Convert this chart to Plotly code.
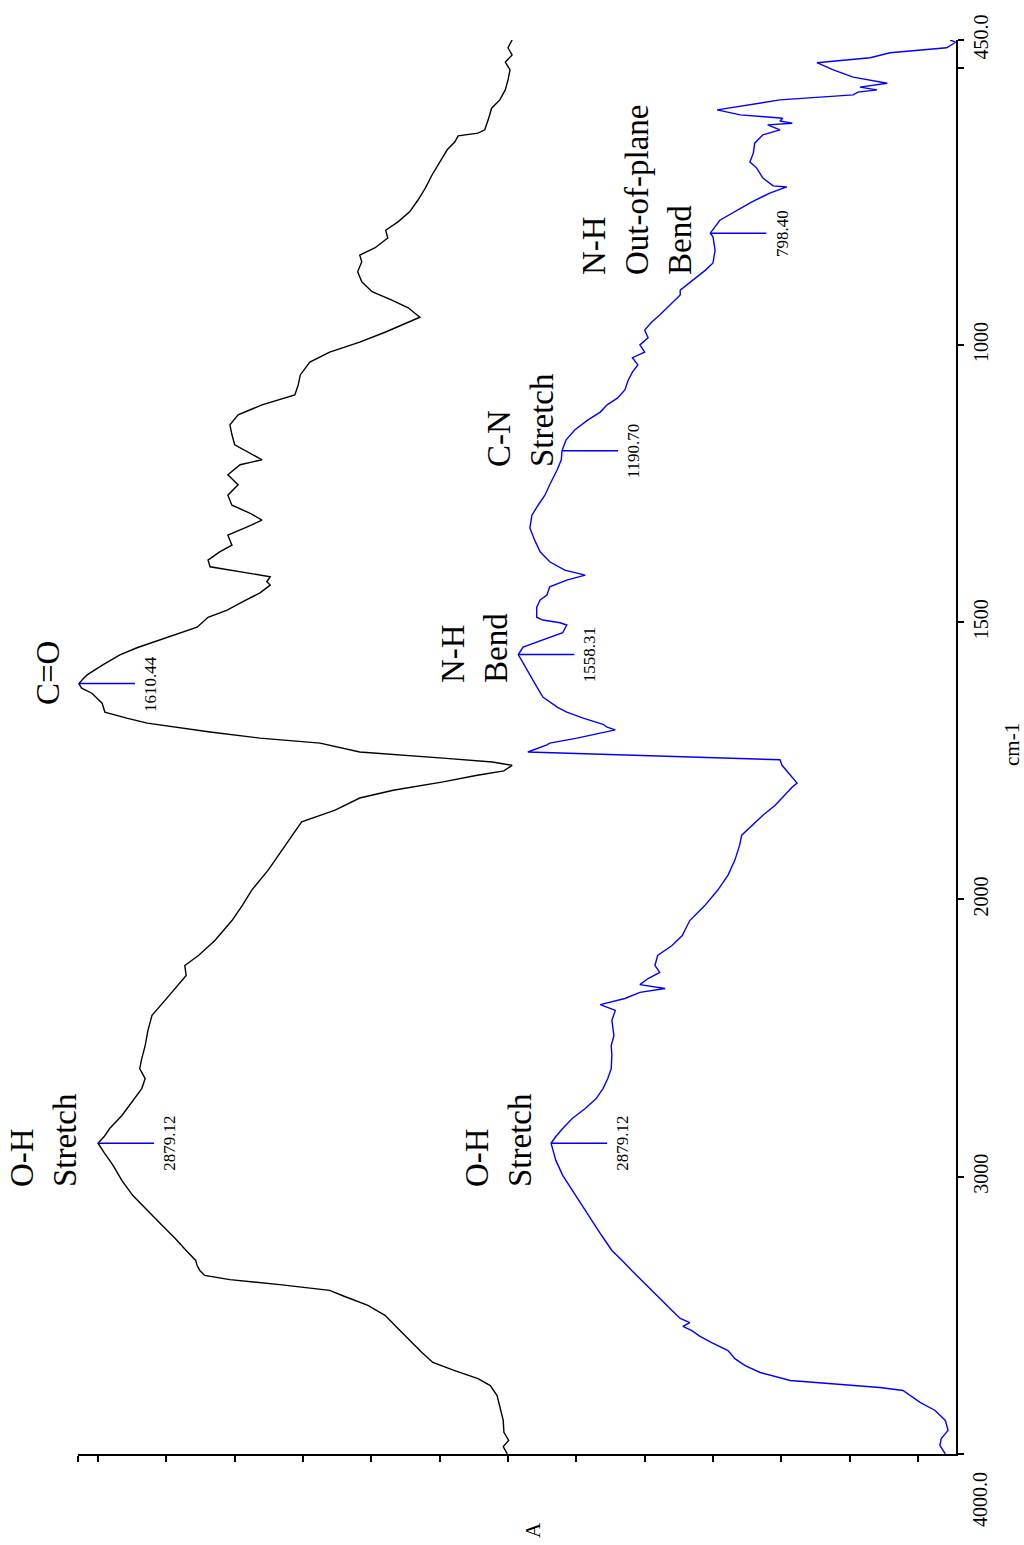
import plotly.graph_objects as go

# ---- spectra (wavenumber in cm-1, absorbance A) ----
black_wn = [4000, 3973, 3951, 3922, 3879, 3825, 3789, 3753, 3728, 3699, 3670, 3634, 3591, 3547,
            3500, 3464, 3432, 3410, 3389, 3371, 3356, 3338, 3320, 3302, 3266, 3223, 3176, 3122,
            3068, 3014, 2959, 2913, 2879.12, 2855, 2826, 2779, 2725, 2682, 2646, 2610, 2574, 2527,
            2473, 2418, 2364, 2310, 2274, 2238, 2202, 2148, 2076, 2022, 1983, 1947, 1911, 1884,
            1860, 1839, 1817, 1803, 1788, 1776, 1768, 1758, 1752, 1745, 1739, 1734, 1718, 1709,
            1698, 1689, 1682, 1673, 1662, 1646, 1628, 1619, 1610.44, 1601, 1595, 1577, 1559, 1546,
            1532, 1518, 1509, 1491, 1478, 1463, 1447, 1433, 1427, 1418, 1400, 1388, 1373, 1361,
            1343, 1330, 1316, 1303, 1289, 1271, 1252, 1234, 1216, 1207, 1195, 1180, 1162, 1144,
            1126, 1108, 1090, 1072, 1054, 1031, 1013, 995, 977, 964, 950, 933, 919, 904, 886, 868,
            850, 838, 825, 807, 793, 778, 760, 739, 717, 693, 670, 648, 634, 623, 618, 612, 594,
            573, 558, 540, 522, 504, 490, 477, 464, 450]
black_abs = [0.601, 0.607, 0.599, 0.606, 0.607, 0.612, 0.616, 0.626, 0.644, 0.678, 0.710, 0.726,
             0.744, 0.761, 0.780, 0.805, 0.839, 0.861, 0.934, 1.007, 1.044, 1.051, 1.055, 1.057,
             1.071, 1.087, 1.106, 1.127, 1.149, 1.165, 1.178, 1.191, 1.200, 1.191, 1.183, 1.165,
             1.149, 1.136, 1.131, 1.139, 1.136, 1.131, 1.127, 1.121, 1.102, 1.083, 1.071, 1.073,
             1.053, 1.029, 1.004, 0.989, 0.975, 0.951, 0.931, 0.916, 0.902, 0.853, 0.817, 0.768,
             0.695, 0.645, 0.606, 0.594, 0.623, 0.695, 0.768, 0.817, 0.875, 0.963, 1.036, 1.085,
             1.128, 1.158, 1.190, 1.194, 1.209, 1.224, 1.228, 1.221, 1.216, 1.193, 1.168, 1.143,
             1.109, 1.076, 1.055, 1.039, 1.011, 0.988, 0.963, 0.948, 0.953, 0.948, 1.036, 1.039,
             1.022, 1.004, 1.010, 0.985, 0.960, 0.978, 1.004, 1.010, 0.995, 1.010, 0.992, 0.960,
             0.978, 1.000, 1.004, 1.007, 0.995, 0.960, 0.912, 0.907, 0.904, 0.890, 0.861, 0.817,
             0.780, 0.755, 0.729, 0.746, 0.770, 0.799, 0.814, 0.820, 0.814, 0.817, 0.795, 0.776,
             0.779, 0.761, 0.744, 0.732, 0.721, 0.711, 0.700, 0.689, 0.678, 0.673, 0.644, 0.634,
             0.629, 0.624, 0.612, 0.604, 0.600, 0.597, 0.604, 0.594, 0.600, 0.594]

blue_wn = [4000, 3969, 3944, 3915, 3879, 3843, 3814, 3789, 3771, 3760, 3749, 3735, 3706, 3681,
           3656, 3627, 3598, 3576, 3555, 3540, 3526, 3511, 3482, 3446, 3410, 3374, 3338, 3302,
           3266, 3212, 3158, 3104, 3050, 2995, 2941, 2905, 2879.12, 2855, 2826, 2790, 2754, 2718,
           2682, 2646, 2610, 2563, 2527, 2491, 2436, 2400, 2379, 2357, 2335, 2321, 2307, 2285,
           2263, 2238, 2202, 2166, 2130, 2076, 2022, 1983, 1956, 1929, 1902, 1884, 1866, 1848,
           1830, 1812, 1797, 1790, 1781, 1770, 1758, 1748, 1734, 1721, 1718, 1709, 1700, 1694,
           1689, 1684, 1673, 1662, 1653, 1635, 1610, 1586, 1558.31, 1545, 1536, 1528, 1519, 1505,
           1501, 1496, 1491, 1473, 1460, 1451, 1436, 1424, 1415, 1406, 1391, 1373, 1352, 1330,
           1307, 1289, 1271, 1252, 1225, 1207, 1190.70, 1171, 1153, 1135, 1121, 1108, 1096, 1081,
           1063, 1049, 1036, 1023, 1013, 1000, 987, 973, 959, 946, 928, 910, 901, 883, 865, 852,
           829, 805, 798.40, 775, 757, 742, 726, 715, 713, 699, 681, 670, 654, 636, 621, 612, 603,
           600, 596, 591, 585, 576, 558, 549, 544, 540, 535, 528, 517, 510, 504, 491, 482, 473,
           464, 454, 450]
blue_abs = [-0.040, -0.032, -0.034, -0.044, -0.040, -0.025, -0.003, 0.012, 0.022, 0.056, 0.114,
            0.187, 0.231, 0.253, 0.268, 0.278, 0.302, 0.319, 0.331, 0.344, 0.334, 0.348, 0.360,
            0.375, 0.389, 0.404, 0.419, 0.433, 0.448, 0.463, 0.477, 0.492, 0.506, 0.520, 0.530,
            0.534, 0.537, 0.530, 0.520, 0.506, 0.487, 0.471, 0.461, 0.454, 0.449, 0.448, 0.449,
            0.445, 0.448, 0.443, 0.465, 0.429, 0.407, 0.370, 0.407, 0.395, 0.378, 0.385, 0.381,
            0.360, 0.345, 0.334, 0.312, 0.293, 0.278, 0.268, 0.261, 0.258, 0.243, 0.227, 0.209,
            0.195, 0.184, 0.177, 0.183, 0.190, 0.199, 0.202, 0.571, 0.543, 0.539, 0.499, 0.465,
            0.443, 0.455, 0.461, 0.490, 0.514, 0.528, 0.549, 0.561, 0.572, 0.585, 0.578, 0.558,
            0.543, 0.520, 0.514, 0.524, 0.549, 0.558, 0.558, 0.553, 0.543, 0.539, 0.514, 0.487,
            0.517, 0.539, 0.553, 0.561, 0.568, 0.565, 0.556, 0.546, 0.539, 0.528, 0.522, 0.521,
            0.515, 0.502, 0.483, 0.465, 0.455, 0.440, 0.429, 0.424, 0.418, 0.410, 0.418, 0.400,
            0.407, 0.395, 0.400, 0.390, 0.378, 0.363, 0.348, 0.348, 0.329, 0.311, 0.300, 0.297,
            0.300, 0.304, 0.290, 0.265, 0.243, 0.217, 0.192, 0.212, 0.227, 0.236, 0.246, 0.241,
            0.239, 0.227, 0.202, 0.220, 0.184, 0.202, 0.198, 0.260, 0.294, 0.202, 0.095, 0.088,
            0.060, 0.085, 0.045, 0.095, 0.110, 0.124, 0.148, 0.070, 0.041, -0.042, -0.055, -0.047]

# ---- labelled peaks: (series, wavenumber, absorbance, label) ----
peak_series = ["black", "black", "blue", "blue", "blue", "blue"]
peak_wn = [2879.12, 1610.44, 2879.12, 1558.31, 1190.70, 798.40]
peak_abs = [1.200, 1.228, 0.537, 0.585, 0.521, 0.304]
peak_text = ["2879.12", "1610.44", "2879.12", "1558.31", "1190.70", "798.40"]

# ---- band assignments ----
band_text = ["O-H<br>Stretch", "C=O", "O-H<br>Stretch", "N-H<br>Bend",
             "C-N<br>Stretch", "N-H<br>Out-of-plane<br>Bend"]

# ---- wavenumber axis ticks ----
wn_ticks = [450, 500, 1000, 1500, 2000, 3000, 4000]
wn_tick_text = ["450.0", "", "1000", "1500", "2000", "3000", ""]
wn_end_label = "4000.0"   # drawn just below the axis end

# ---- absorbance axis ticks (unlabelled) ----
abs_ticks = [round(0.1 * k, 1) for k in range(13)] + [1.2293]
abs_range = [1.2293, -0.0556]


def scale_wn(w):
    """Instrument-style axis: region above 2000 cm-1 compressed by a factor of two."""
    return w if w <= 2000 else 2000 + (w - 2000) / 2.0


SERIF = "Liberation Serif"
BLUE = "#0000ff"

fig = go.Figure()

fig.add_trace(go.Scatter(x=black_abs, y=[scale_wn(w) for w in black_wn], mode="lines",
                         line=dict(color="black", width=1.4), hoverinfo="skip"))
fig.add_trace(go.Scatter(x=blue_abs, y=[scale_wn(w) for w in blue_wn], mode="lines",
                         line=dict(color=BLUE, width=1.4), hoverinfo="skip"))

# peak markers: short horizontal blue leader + rotated wavenumber label
LEADER = 0.082
annotations = []
for s, w, a, t in zip(peak_series, peak_wn, peak_abs, peak_text):
    u = scale_wn(w)
    fig.add_trace(go.Scatter(x=[a, a - LEADER], y=[u, u], mode="lines",
                             line=dict(color=BLUE, width=1.4), hoverinfo="skip"))
    annotations.append(dict(x=a - LEADER, y=u, xref="x", yref="y", text=t, textangle=-90,
                            showarrow=False, xanchor="left", yanchor="middle", xshift=4,
                            font=dict(family=SERIF, size=17, color="black")))

# band labels (placed in figure-fraction coordinates of the plot area)
W0, W1, H0, H1 = 78, 956, 40, 1454


def px_to_paper(px, py):
    return (px - W0) / (W1 - W0), (H1 - py) / (H1 - H0)


band_pos = [(43, 1140), (48, 673), (498, 1140), (474, 648), (521, 420), (637, 190)]
for t, (px, py) in zip(band_text, band_pos):
    xp, yp = px_to_paper(px, py)
    annotations.append(dict(x=xp, y=yp, xref="paper", yref="paper", text=t, textangle=-90,
                            showarrow=False, align="left", xanchor="center", yanchor="middle",
                            font=dict(family=SERIF, size=33, color="black")))

# axis titles and the end label of the wavenumber axis
side_texts = [("cm-1", 1012, 745, 21), ("A", 533, 1530, 21), (wn_end_label, 980, 1500, 20)]
for t, px, py, fs in side_texts:
    xp, yp = px_to_paper(px, py)
    annotations.append(dict(x=xp, y=yp, xref="paper", yref="paper", text=t, textangle=-90,
                            showarrow=False, xanchor="center", yanchor="middle",
                            font=dict(family=SERIF, size=fs, color="black")))

fig.update_layout(
    width=1024, height=1545,
    margin=dict(l=W0, r=1024 - W1, t=H0, b=1545 - H1),
    paper_bgcolor="white", plot_bgcolor="white",
    showlegend=False,
    annotations=annotations,
    xaxis=dict(range=abs_range, showgrid=False, zeroline=False, showline=True,
               linecolor="black", linewidth=1.5, ticks="outside", ticklen=6, tickwidth=1.5,
               tickcolor="black", tickmode="array", tickvals=abs_ticks,
               showticklabels=False),
    yaxis=dict(range=[scale_wn(4000), scale_wn(450)], side="right", showgrid=False,
               zeroline=False, showline=True, linecolor="black", linewidth=1.5,
               ticks="outside", ticklen=6, tickwidth=1.5, tickcolor="black",
               tickmode="array", tickvals=[scale_wn(w) for w in wn_ticks],
               ticktext=wn_tick_text, tickangle=-90,
               tickfont=dict(family=SERIF, size=20, color="black")),
)

fig.write_html("out.html")
